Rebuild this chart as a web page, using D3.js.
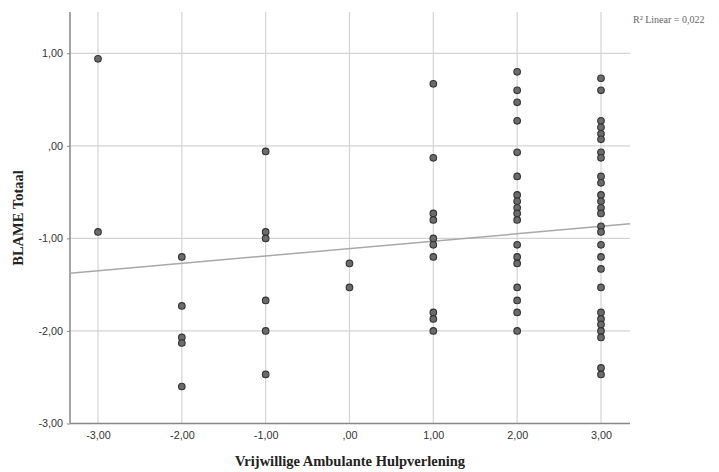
<!DOCTYPE html>
<html><head><meta charset="utf-8">
<script src="https://cdn.jsdelivr.net/npm/d3@7"></script>
<style>body{margin:0;background:#fff}svg{display:block}</style>
</head><body>
<svg id="c" width="719" height="472"></svg>
<script>
// Data (x group -> BLAME Totaal values)
const xGroups = [-3, -2, -1, 0, 1, 2, 3];
const yMinus3 = [0.94, -0.93];
const yMinus2 = [-1.20, -1.73, -2.07, -2.13, -2.60];
const yMinus1 = [-0.06, -0.93, -1.00, -1.67, -2.00, -2.47];
const yZero   = [-1.27, -1.53];
const yPlus1  = [0.67, -0.13, -0.73, -0.80, -1.00, -1.07, -1.20, -1.80, -1.87, -2.00];
const yPlus2  = [0.80, 0.60, 0.47, 0.27, -0.07, -0.33, -0.53, -0.60, -0.67, -0.73, -0.80, -1.07, -1.20, -1.27, -1.53, -1.67, -1.80, -2.00];
const yPlus3  = [0.73, 0.60, 0.27, 0.20, 0.13, 0.07, -0.07, -0.13, -0.33, -0.40, -0.53, -0.60, -0.67, -0.73, -0.87, -0.93, -1.07, -1.20, -1.33, -1.53, -1.80, -1.87, -1.93, -2.00, -2.07, -2.40, -2.47];
const xTicks = [-3, -2, -1, 0, 1, 2, 3];
const yTicks = [-3, -2, -1, 0, 1];
const fitIntercept = -1.11;
const fitSlope = 0.08;
const xTitle = "Vrijwillige Ambulante Hulpverlening";
const yTitle = "BLAME Totaal";
const r2Label = "R² Linear = 0,022";

const groups = [yMinus3, yMinus2, yMinus1, yZero, yPlus1, yPlus2, yPlus3];
const points = [];
groups.forEach((arr, i) => arr.forEach(v => points.push({x: xGroups[i], y: v})));

const L = 70, R = 630, T = 12, B = 423.5;
const x = d3.scaleLinear().domain([-3.334, 3.346]).range([L, R]);
const y = d3.scaleLinear().domain([-3, 1.446]).range([B, T]);
const fmt = v => v === 0 ? ",00" : d3.format(".2f")(v).replace(".", ",").replace("−", "-");

const svg = d3.select("#c");

// grid
svg.append("g").selectAll("line").data(xTicks).join("line")
  .attr("x1", d => x(d)).attr("x2", d => x(d)).attr("y1", T).attr("y2", B)
  .attr("stroke", "#d4d4d4").attr("stroke-width", 1.2);
svg.append("g").selectAll("line").data(yTicks.filter(d => d > -3)).join("line")
  .attr("x1", L).attr("x2", R).attr("y1", d => y(d)).attr("y2", d => y(d))
  .attr("stroke", "#d4d4d4").attr("stroke-width", 1.2);

// axes
const xAxis = svg.append("g").attr("transform", `translate(0,${B})`)
  .call(d3.axisBottom(x).tickValues(xTicks).tickFormat(fmt).tickSize(0).tickPadding(8));
const yAxis = svg.append("g").attr("transform", `translate(${L},0)`)
  .call(d3.axisLeft(y).tickValues(yTicks).tickFormat(fmt).tickSize(3).tickPadding(4));
[xAxis, yAxis].forEach(g => {
  g.select(".domain").attr("stroke", "#888").attr("stroke-width", 1.5);
  g.selectAll(".tick line").attr("stroke", "#888");
  g.selectAll("text").attr("font-family", "'Liberation Sans', Arial, sans-serif").attr("font-size", 10.8).attr("fill", "#333");
});
xAxis.select(".domain").attr("d", `M${L},0H${R}`);
yAxis.select(".domain").attr("d", `M0,${B}V${T}`);

// fit line
svg.append("line")
  .attr("x1", x(-3.334)).attr("y1", y(fitIntercept + fitSlope * -3.334))
  .attr("x2", x(3.346)).attr("y2", y(fitIntercept + fitSlope * 3.346))
  .attr("stroke", "#a8a8a8").attr("stroke-width", 1.5);

// points
svg.append("g").selectAll("circle").data(points).join("circle")
  .attr("cx", d => x(d.x)).attr("cy", d => y(d.y)).attr("r", 3.3)
  .attr("fill", "#6b6b6b").attr("stroke", "#333").attr("stroke-width", 1.1);

// titles
svg.append("text").attr("x", 350).attr("y", 466).attr("text-anchor", "middle")
  .attr("font-family", "'Liberation Serif', serif").attr("font-weight", "bold").attr("font-size", 14.5)
  .attr("fill", "#222").text(xTitle);
svg.append("text").attr("transform", "translate(23,218) rotate(-90)").attr("text-anchor", "middle")
  .attr("font-family", "'Liberation Serif', serif").attr("font-weight", "bold").attr("font-size", 14.5)
  .attr("fill", "#222").text(yTitle);
svg.append("text").attr("x", 633).attr("y", 23)
  .attr("font-family", "'Liberation Serif', serif").attr("font-size", 10)
  .attr("fill", "#666").text(r2Label);
</script>
</body></html>
